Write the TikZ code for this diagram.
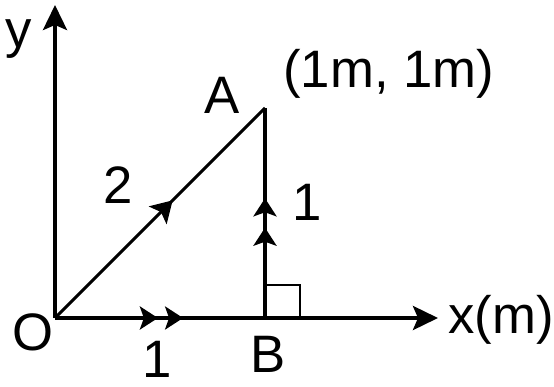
\documentclass[tikz,border=0pt]{standalone}
\usepackage{fontspec}
\setmainfont{Liberation Sans}
\usetikzlibrary{arrows.meta,decorations.markings,calc}
\tikzset{
  axisline/.style={line width=2.2pt,
                   -{Stealth[length=0.5cm,width=0.48cm,inset=0.1cm]}},
  vecline/.style={line width=2pt},
  diagline/.style={line width=1.7pt},
  anglebox/.style={line width=1.4pt},
  lbl/.style={inner sep=0pt,font=\fontsize{30}{36}\selectfont},
  midhead/.style={postaction={decorate},decoration={markings,
      mark=at position #1 with {\arrow{Stealth[length=0.42cm,width=0.5cm,inset=0.09cm]}}}},
  twohead/.style n args={2}{postaction={decorate},decoration={markings,
      mark=at position #1 with {\arrow{Stealth[length=0.36cm,width=0.46cm,inset=0.08cm]}},
      mark=at position #2 with {\arrow{Stealth[length=0.36cm,width=0.46cm,inset=0.08cm]}}}}
}
\begin{document}
\begin{tikzpicture}[x=0.02cm,y=0.02cm]
    \useasboundingbox (0,0) rectangle (554,386);
    % points
    \coordinate (O) at (55,68);
    \coordinate (B) at (265,68);
    \coordinate (A) at (265,278);
    \coordinate (xend) at (438,68);
    \coordinate (yend) at (55,381);

    % axes
    \draw[axisline] (O) -- (xend);
    \draw[axisline] (O) -- (yend);

    % vectors
    \draw[diagline,midhead=0.56] (O) -- (A);
    \draw[vecline,twohead={0.43}{0.57}] (B) -- (A);
    \draw[line width=2.2pt,twohead={0.49}{0.61}] (O) -- (B);
    \draw[anglebox] ($(B)+(0,33)$) -| ($(B)+(35,0)$);

    % labels
    \node[lbl,anchor=base] (ylab) at (19,338) {y};
    \node[lbl,anchor=base] (olab) at (33,36) {O};
    \node[lbl,anchor=base] (oblab) at (157,9) {1};
    \node[lbl,anchor=base] (blab) at (268,14) {B};
    \node[lbl,anchor=base west] (xlab) at (448,53) {x(m)};
    \node[lbl,anchor=base] (alab) at (222,273) {A};
    \node[lbl,anchor=base west] (acoord) at (283,298) {(1m, 1m)};
    \node[lbl,anchor=base] (oalab) at (118,183) {2};
    \node[lbl,anchor=base] (balab) at (307,166) {1};
\end{tikzpicture}
\end{document}
